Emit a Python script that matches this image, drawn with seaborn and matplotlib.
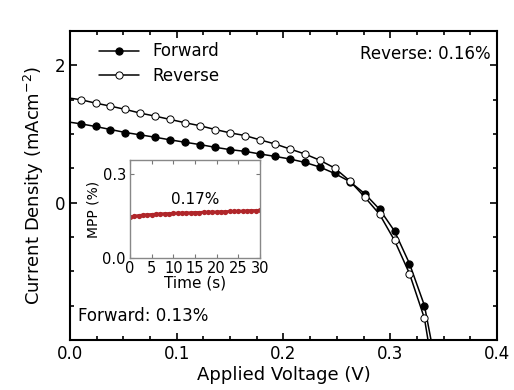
import matplotlib
matplotlib.use("Agg")
import matplotlib.pyplot as plt
import seaborn as sns
import pandas as pd
from matplotlib.ticker import MultipleLocator

sns.set_style("ticks")
plt.rcParams['font.family'] = ['DejaVu Sans']
plt.rcParams.update({"text.color": "black", "axes.labelcolor": "black",
                     "xtick.color": "black", "ytick.color": "black"})

# ---- data ----
voltage = [0.000, 0.010, 0.024, 0.038, 0.052, 0.066, 0.080, 0.094, 0.108, 0.122,
           0.136, 0.150, 0.164, 0.178, 0.192, 0.206, 0.220, 0.234, 0.248,
           0.262, 0.276, 0.290, 0.304, 0.318, 0.332]
forward_j = [1.17, 1.147, 1.108, 1.064, 1.020, 0.986, 0.951, 0.913, 0.878, 0.844,
             0.805, 0.771, 0.746, 0.708, 0.673, 0.635, 0.585, 0.518, 0.424,
             0.307, 0.132, -0.097, -0.414, -0.887, -1.497]
reverse_j = [1.52, 1.498, 1.448, 1.404, 1.356, 1.302, 1.258, 1.210, 1.162, 1.118,
             1.064, 1.015, 0.976, 0.913, 0.854, 0.781, 0.708, 0.617, 0.503,
             0.317, 0.083, -0.170, -0.550, -1.033, -1.683]
forward_tail_v = [0.3392]
forward_tail_j = [-2.08]
reverse_tail_v = [0.3362]
reverse_tail_j = [-2.08]

time_s = [0, 1, 2, 3, 4, 5, 6, 7, 8, 9, 10, 11, 12, 13, 14, 15, 16, 17, 18, 19,
          20, 21, 22, 23, 24, 25, 26, 27, 28, 29, 30]
mpp = [0.146, 0.150, 0.152, 0.154, 0.155, 0.156, 0.157, 0.158, 0.159, 0.159,
       0.160, 0.161, 0.161, 0.162, 0.162, 0.163, 0.163, 0.164, 0.164, 0.165,
       0.165, 0.166, 0.166, 0.167, 0.167, 0.168, 0.168, 0.169, 0.170, 0.170, 0.171]

x_ticks = [0.0, 0.1, 0.2, 0.3, 0.4]
y_ticks = [0, 2]
inset_x_ticks = [0, 5, 10, 15, 20, 25, 30]
inset_y_ticks = [0.0, 0.3]

fwd = pd.DataFrame({"V": voltage + forward_tail_v, "J": forward_j + forward_tail_j})
rev = pd.DataFrame({"V": voltage + reverse_tail_v, "J": reverse_j + reverse_tail_j})
ins = pd.DataFrame({"t": time_s, "mpp": mpp})

fig = plt.figure(figsize=(5.14, 3.90), dpi=100)
ax = fig.add_axes([0.136, 0.128, 0.831, 0.793])

mark_idx = list(range(1, len(voltage)))
sns.lineplot(data=fwd, x="V", y="J", ax=ax, color="black", lw=1.1, marker="o",
             markersize=5.2, markerfacecolor="black", markeredgecolor="black",
             markevery=mark_idx, label="Forward", sort=False)
sns.lineplot(data=rev, x="V", y="J", ax=ax, color="black", lw=1.1, marker="o",
             markersize=5.2, markerfacecolor="white", markeredgecolor="black",
             markeredgewidth=0.7, markevery=mark_idx, label="Reverse", sort=False)

ax.set_xlim(0.0, 0.4)
ax.set_ylim(-2.0, 2.5)
ax.set_xticks(x_ticks)
ax.set_xticklabels([f"{v:.1f}" for v in x_ticks])
ax.set_yticks(y_ticks)
ax.set_yticklabels([str(v) for v in y_ticks])
ax.xaxis.set_minor_locator(MultipleLocator(0.025))
ax.yaxis.set_minor_locator(MultipleLocator(0.5))
ax.tick_params(which="both", direction="in", top=True, right=True, labelsize=12, width=1.2)
ax.tick_params(which="major", length=5)
ax.tick_params(which="minor", length=3)
for s in ax.spines.values():
    s.set_linewidth(1.5)
    s.set_color("black")
ax.set_xlabel("Applied Voltage (V)", fontsize=13, labelpad=2)
ax.set_ylabel("Current Density (mAcm$^{-2}$)", fontsize=13, labelpad=6)

leg = ax.legend(loc="upper left", frameon=False, fontsize=12, handlelength=2.4,
                borderaxespad=0.3, handletextpad=0.8, labelspacing=0.4,
                bbox_to_anchor=(0.04, 1.0))

ax.text(0.985, 0.955, "Reverse: 0.16%", transform=ax.transAxes, ha="right",
        va="top", fontsize=12)
ax.text(0.02, 0.05, "Forward: 0.13%", transform=ax.transAxes, ha="left",
        va="bottom", fontsize=12)

# ---- inset ----
axi = fig.add_axes([0.253, 0.338, 0.253, 0.251])
sns.lineplot(data=ins, x="t", y="mpp", ax=axi, color="#b0262a", lw=2.2,
             marker="o", markersize=3.8, markeredgewidth=0)
axi.set_xlim(0, 30)
axi.set_ylim(0, 0.35)
axi.set_xticks(inset_x_ticks)
axi.set_yticks(inset_y_ticks)
axi.set_yticklabels([f"{v:.1f}" for v in inset_y_ticks])
axi.tick_params(axis="both", direction="in", labelsize=10.5, length=3, top=True,
                right=True, colors="#777777", labelcolor="black")
axi.tick_params(axis="x", pad=2)
axi.tick_params(axis="y", pad=3)
for s in axi.spines.values():
    s.set_color("#888888")
    s.set_linewidth(1.0)
axi.set_xlabel("Time (s)", fontsize=11, labelpad=0)
axi.set_ylabel("MPP (%)", fontsize=10, labelpad=1)
axi.text(15, 0.183, "0.17%", ha="center", va="bottom", fontsize=11)

fig.savefig("out.png", dpi=100)
